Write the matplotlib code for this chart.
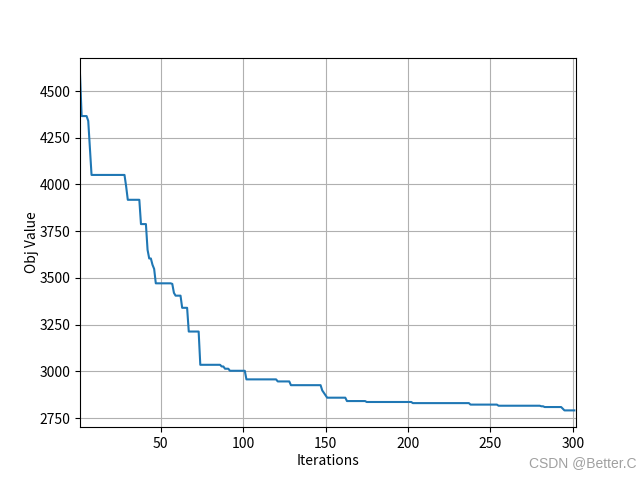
import numpy as np
import matplotlib
matplotlib.use("Agg")
import matplotlib.pyplot as plt

plt.rcParams['font.family'] = ['Noto Sans CJK SC', 'DejaVu Sans']
plt.rcParams['axes.unicode_minus'] = False

# best objective value so far, read off the picture as steps:
# the value holds from each start iteration until the next one
step_iters = [1, 2, 6, 7, 8, 29, 30, 38, 42, 43, 45, 46, 47, 57, 58, 59,
              63, 67, 74, 87, 89, 92, 102, 121, 129, 148, 149, 150, 151,
              163, 175, 203, 238, 255, 281, 283, 294, 295]
step_vals = [4589, 4366, 4340, 4200, 4051, 3990, 3918, 3788, 3650, 3604,
             3570, 3548, 3471, 3468, 3420, 3405, 3340, 3213, 3035, 3026,
             3014, 3003, 2957, 2946, 2926, 2898, 2885, 2871, 2859, 2841,
             2836, 2830, 2822, 2816, 2813, 2809, 2800, 2791]
n_iter = 301

iters = np.arange(1, n_iter + 1)
idx = np.searchsorted(step_iters, iters, side='right') - 1
obj = np.array(step_vals)[idx]

fig = plt.figure(figsize=(6.4, 4.8), dpi=100)
plt.plot(iters, obj)
plt.xlim(1, n_iter + 1)
plt.xlabel('Iterations', labelpad=2)
plt.ylabel('Obj Value', labelpad=0)
plt.grid(True)
fig.text(0.995, 0.02, 'CSDN @Better.C', ha='right', va='bottom',
         color='#a0a0a0', fontsize=10, family='Liberation Sans')
plt.savefig('out.png')
